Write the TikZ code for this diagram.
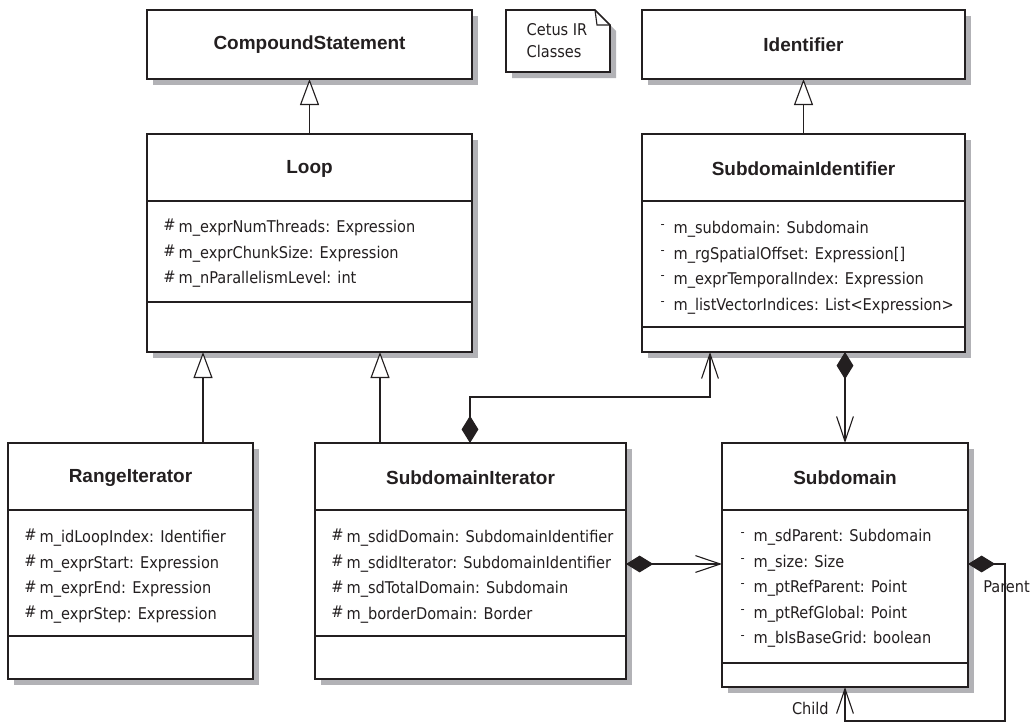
\documentclass[tikz,border=0pt]{standalone}
\usepackage{fontspec}
\setmainfont{Liberation Sans}
\newfontfamily\memberfont{DejaVu Sans Condensed}
\usetikzlibrary{arrows.meta, positioning, calc, fit, shadows}

\definecolor{umlline}{RGB}{35,31,32}
\definecolor{umlshadow}{RGB}{178,178,182}

% visibility markers in front of the members
\newcommand{\visprot}{\makebox[0.95em][l]{\raisebox{1.2pt}{\#}}}
\newcommand{\vispriv}{\makebox[0.95em][l]{\hspace{0.15em}\raisebox{0.3em}{\small -}}}

\tikzset{
  classbox/.style={draw=umlline, line width=1.3pt, fill=white, inner sep=0pt, outer sep=0pt,
    drop shadow={shadow xshift=0.15cm, shadow yshift=-0.15cm, fill=umlshadow, opacity=1}},
  classname/.style={font=\bfseries\fontsize{13.5}{16}\selectfont, text=umlline},
  compartment/.style={draw=umlline, line width=1.1pt},
  members/.style={anchor=north west, inner sep=0pt, align=left, text=umlline,
    font=\memberfont\fontsize{11.5}{18.2}\selectfont, execute at begin node=\strut},
  generalize/.style={draw=umlline, line width=0.8pt,
    -{Triangle[open, length=0.65cm, width=0.475cm, fill=white]}},
  compose/.style={draw=umlline, line width=0.8pt,
    {Diamond[length=0.68cm, width=0.42cm]}-{Straight Barb[length=0.62cm, width=0.42cm]}},
  rolename/.style={inner sep=0pt, text=umlline, font=\memberfont\fontsize{11.5}{14}\selectfont}
}

\begin{document}
\begin{tikzpicture}[x=0.025cm, y=-0.025cm]
  \useasboundingbox (0,0) rectangle (1030,724);

  % Cetus base classes
  \node[classbox, fit={(147,10) (472,79)}] (compound) {};
  \node[classname] (compoundname) at (309.5,44.5) {CompoundStatement};
  \node[classbox, fit={(642,10) (965,79)}] (ident) {};
  \node[classname] (identname) at (803.5,44.5) {Identifier};

  % Note
  \fill[umlshadow] (601,16) -- (616,31) -- (616,78) -- (512,78) -- (512,16) -- cycle;
  \draw[umlline, fill=white, line width=1.1pt] (506,10) -- (595,10) -- (610,25) -- (610,72) -- (506,72) -- cycle;
  \draw[umlline, line width=0.8pt] (595,10) -- (597,25) -- (610,25);
  \node[rolename, align=left, font=\memberfont\fontsize{11.5}{15.6}\selectfont] (note) at (557,41) {Cetus IR\\Classes};

  % Loop
  \node[classbox, fit={(147,134) (472,352)}] (loop) {};
  \node[classname] (loopname) at (309.5,169) {Loop};
  \draw[compartment] (147,201) -- (472,201) (147,302) -- (472,302);
  \node[members] (loopattr) at (163,219) {\visprot m\_exprNumThreads: Expression\\
    \visprot m\_exprChunkSize: Expression\\
    \visprot m\_nParallelismLevel: int};

  % SubdomainIdentifier
  \node[classbox, fit={(642,134) (965,352)}] (subid) {};
  \node[classname] (subidname) at (803.5,169) {SubdomainIdentifier};
  \draw[compartment] (642,201) -- (965,201) (642,327) -- (965,327);
  \node[members] (subidattr) at (658,221) {\vispriv m\_subdomain: Subdomain\\
    \vispriv m\_rgSpatialOffset: Expression[]\\
    \vispriv m\_exprTemporalIndex: Expression\\
    \vispriv m\_listVectorIndices: List<Expression>};

  % RangeIterator
  \node[classbox, fit={(8,443) (253,679)}] (range) {};
  \node[classname] (rangename) at (130.5,478) {RangeIterator};
  \draw[compartment] (8,510) -- (253,510) (8,636) -- (253,636);
  \node[members] (rangeattr) at (24,529) {\visprot m\_idLoopIndex: Identifier\\
    \visprot m\_exprStart: Expression\\
    \visprot m\_exprEnd: Expression\\
    \visprot m\_exprStep: Expression};

  % SubdomainIterator
  \node[classbox, fit={(315,443) (626,679)}] (subit) {};
  \node[classname] (subitname) at (470.5,478) {SubdomainIterator};
  \draw[compartment] (315,510) -- (626,510) (315,636) -- (626,636);
  \node[members] (subitattr) at (331,529) {\visprot m\_sdidDomain: SubdomainIdentifier\\
    \visprot m\_sdidIterator: SubdomainIdentifier\\
    \visprot m\_sdTotalDomain: Subdomain\\
    \visprot m\_borderDomain: Border};

  % Subdomain
  \node[classbox, fit={(722,443) (968,687)}] (subdom) {};
  \node[classname] (subdomname) at (845,478) {Subdomain};
  \draw[compartment] (722,510) -- (968,510) (722,663) -- (968,663);
  \node[members] (subdomattr) at (738,529) {\vispriv m\_sdParent: Subdomain\\
    \vispriv m\_size: Size\\
    \vispriv m\_ptRefParent: Point\\
    \vispriv m\_ptRefGlobal: Point\\
    \vispriv m\_bIsBaseGrid: boolean};

  % Generalizations
  \draw[generalize] (loop.north) -- (compound.south);
  \draw[generalize] (subid.north) -- (ident.south);
  \draw[generalize] (203,0 |- range.north) -- (203,0 |- loop.south);
  \draw[generalize] (380,0 |- subit.north) -- (380,0 |- loop.south);

  % Compositions
  \draw[compose] (470,0 |- subit.north) |- (710,397) -- (710,0 |- subid.south);
  \draw[compose] (subdom.north |- subid.south) -- (subdom.north);
  \draw[compose] (subit.east |- 0,564) -- (subdom.west |- 0,564);
  \draw[compose] (subdom.east |- 0,564) -| (1005,721) -| (subdom.south);
  \node[rolename, anchor=west] (parent) at (983,587) {Parent};
  \node[rolename, anchor=east] (child) at (829,708) {Child};
\end{tikzpicture}
\end{document}
